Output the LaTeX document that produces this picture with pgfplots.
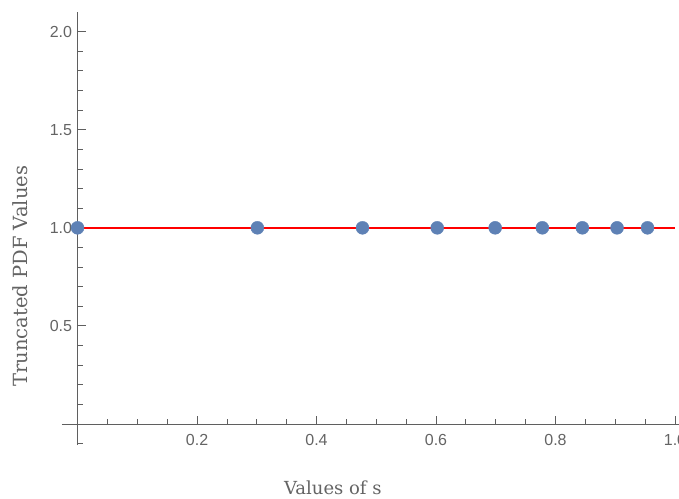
\documentclass[border=0pt]{standalone}
\usepackage{fontspec}
\setmainfont{Liberation Sans}
\newfontfamily\labelfont{DejaVu Serif}
\usepackage{pgfplots}
\pgfplotsset{compat=1.18}

\definecolor{mmablue}{RGB}{94,129,181}
\definecolor{axgray}{RGB}{95,95,95}
\definecolor{txtgray}{RGB}{100,100,100}

\begin{document}
\begin{tikzpicture}
    \useasboundingbox (0,0) rectangle (679pt,498pt);
    \begin{axis}[
            at={(62pt,53pt)},
            anchor=south west,
            scale only axis,
            width=617pt,
            height=433pt,
            axis lines=middle,
            axis line style={axgray, line width=1pt, -},
            xmin=-0.026, xmax=1.0067,
            ymin=-0.107, ymax=2.10,
            xtick={0.2,0.4,0.6,0.8,1.0},
            ytick={0.5,1.0,1.5,2.0},
            minor xtick={0.05,0.1,0.15,0.25,0.3,0.35,0.45,0.5,0.55,0.65,0.7,0.75,0.85,0.9,0.95},
            minor ytick={-0.1,0.1,0.2,0.3,0.4,0.6,0.7,0.8,0.9,1.1,1.2,1.3,1.4,1.6,1.7,1.8,1.9},
            tick align=inside,
            major tick length=8pt,
            minor tick length=5pt,
            tick style={axgray, line width=0.9pt},
            minor tick style={axgray, line width=0.8pt},
            xticklabels={0.2,0.4,0.6,0.8,1.0},
            yticklabels={0.5,1.0,1.5,2.0},
            tick label style={font=\fontsize{16}{19}\selectfont, text=txtgray},
            xticklabel style={anchor=north, yshift=-7pt},
            yticklabel style={anchor=east, xshift=-2pt},
            /pgf/number format/assume math mode=true,
            xlabel={Values of s},
            ylabel={Truncated PDF Values},
            xlabel style={font=\labelfont\fontsize{18}{22}\selectfont, text=txtgray,
                at={(rel axis cs:0.439,-0.0993)}, anchor=center},
            ylabel style={font=\labelfont\fontsize{19.5}{23}\selectfont, text=txtgray,
                at={(rel axis cs:-0.068,0.39)}, anchor=center, rotate=90},
            clip=false,
        ]
        \addplot[red, line width=2pt] coordinates {
            (0,1)
            (1,1)
        };
        \addplot[only marks, mark=*, mark size=6.5pt,
            mark options={fill=mmablue, draw=mmablue}] coordinates {
            (0.000,1)
            (0.301,1)
            (0.477,1)
            (0.602,1)
            (0.699,1)
            (0.778,1)
            (0.845,1)
            (0.903,1)
            (0.954,1)
        };
    \end{axis}
\end{tikzpicture}
\end{document}
